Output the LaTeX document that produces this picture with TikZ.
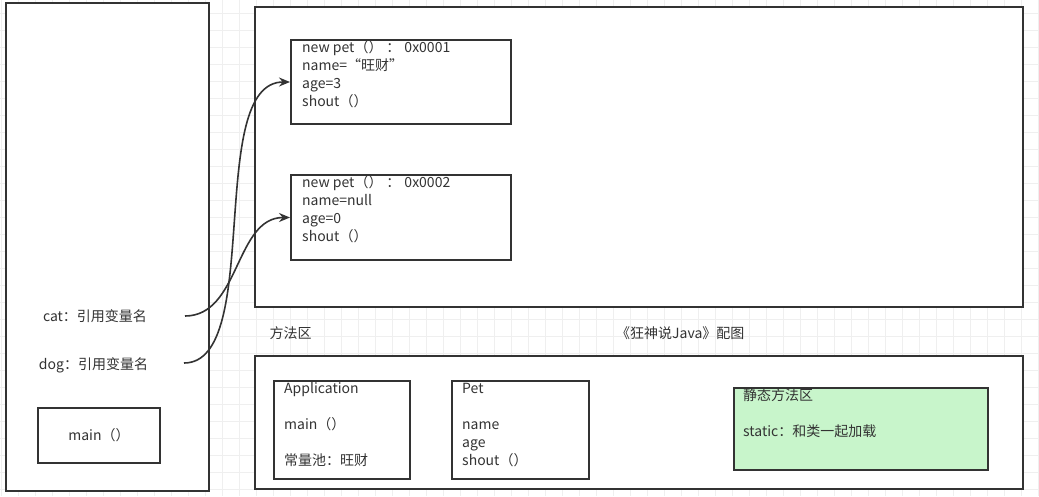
\documentclass[tikz,border=0pt]{standalone}
\usepackage{fontspec}
\setmainfont{Noto Sans CJK SC}
\usetikzlibrary{positioning, arrows.meta, calc}
\definecolor{linegray}{HTML}{333333}
\definecolor{gridgray}{HTML}{EFEFEF}
\definecolor{staticgreen}{HTML}{C8F5CB}

\begin{document}
\begin{tikzpicture}[
  x=1pt, y=-1pt,
  font=\fontsize{14}{18}\selectfont,
  text=linegray,
  % Estilos de cajas
  areabox/.style={draw=linegray, fill=white, line width=2pt, anchor=north west, inner sep=0pt},
  objbox/.style={draw=linegray, fill=white, line width=2pt, anchor=north west, inner sep=0pt},
  txt/.style={anchor=base west, align=left, inner sep=0pt},
  % Estilos de flechas
  ref/.style={draw=linegray, line width=1.6pt, -{Stealth[length=11pt, width=9pt]}}
]
  \useasboundingbox (0,0) rectangle (1039,496);

  % ==========================================
  % BACKGROUND GRID
  % ==========================================
  \foreach \gx in {1,18,...,1039} \draw[gridgray, line width=0.8pt] (\gx,0) -- (\gx,496);
  \foreach \gy in {13,30,...,496} \draw[gridgray, line width=0.8pt] (0,\gy) -- (1039,\gy);

  % ==========================================
  % THREE MEMORY AREAS
  % ==========================================

  % --- STACK ---
  \node[areabox, minimum width=203pt, minimum height=488pt] (stack) at (5,2) {};
  \node[anchor=base] (catvar) at (95,321.5) {cat：引用变量名};
  \node[anchor=base] (dogvar) at (93.5,369.5) {dog：引用变量名};
  \node[objbox, anchor=center, minimum width=122pt, minimum height=55pt] (mainbox) at (99,435.5) {main（）};
  \coordinate (catref) at (185,316);
  \coordinate (dogref) at (184,363);

  % --- HEAP ---
  \node[areabox, minimum width=768pt, minimum height=300pt] (heap) at (254,6) {};
  \node[objbox, minimum width=220pt, minimum height=84pt] (obj1) at (290,39) {};
  % base anchor = baseline of the last line
  \node[txt] (t1) at ($(obj1.north west)+(12,67)$) {new pet（）\hspace{4pt}：\hspace{4pt}0x0001\\name=“旺财”\\age=3\\shout（）};
  \node[objbox, minimum width=220pt, minimum height=85pt] (obj2) at (290,174) {};
  \node[txt] (t2) at ($(obj2.north west)+(12,67.5)$) {new pet（）\hspace{4pt}：\hspace{4pt}0x0002\\name=null\\age=0\\shout（）};

  % --- METHOD AREA ---
  \node[anchor=base west] (mlabel) at (266,338.5) {方法区};
  \node[anchor=base east] (credit) at (748,338.5) {《狂神说Java》配图};
  \node[areabox, minimum width=768pt, minimum height=133pt] (method) at (254,355) {};
  \node[objbox, minimum width=136pt, minimum height=98pt] (app) at (273,380) {};
  \node[txt] (t3) at ($(app.north west)+(11,85.5)$) {Application\\[18pt]main（）\\[18pt]常量池：旺财};
  \node[objbox, minimum width=137pt, minimum height=98pt] (pet) at (451,380) {};
  \node[txt] (t4) at ($(pet.north west)+(11,85.5)$) {Pet\\[18pt]name\\age\\shout（）};
  \node[objbox, fill=staticgreen, minimum width=254pt, minimum height=82pt] (static) at (733,387) {};
  \node[txt] (t5) at ($(static.north west)+(10,49.5)$) {静态方法区\\[18pt]static：和类一起加载};

  % ==========================================
  % REFERENCES FROM STACK TO HEAP
  % ==========================================
  \draw[ref] (dogref) .. controls +(80,0) and +(-85,0) .. (obj1.west);
  \draw[ref] (catref) .. controls +(55,0) and +(-55,0) .. (obj2.west);

\end{tikzpicture}
\end{document}
